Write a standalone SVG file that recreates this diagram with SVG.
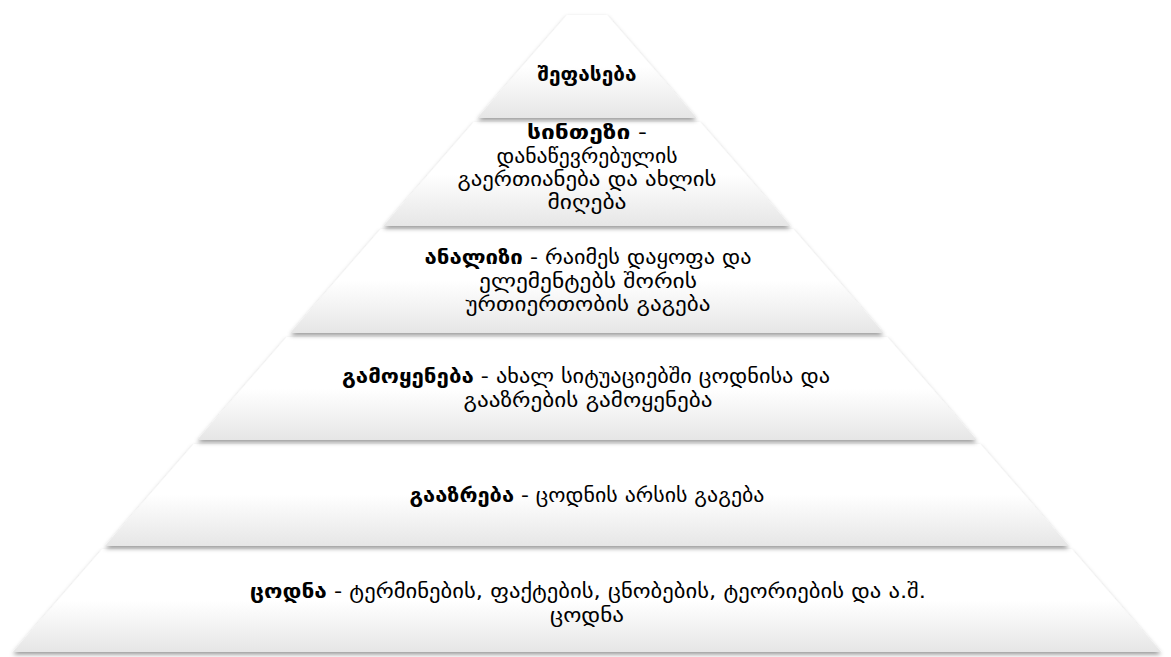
<svg xmlns="http://www.w3.org/2000/svg" width="1171" height="657" viewBox="0 0 1171 657">
<style>
.layer{fill:url(#g);filter:url(#sh);}
text{font-family:"DejaVu Sans","Noto Sans",sans-serif;font-size:19px;fill:#000;text-anchor:middle;}
.b{font-weight:bold;}
</style>
<defs>
<linearGradient id="g" x1="0" y1="0" x2="0" y2="1">
<stop offset="0" stop-color="#ffffff"/>
<stop offset="0.5" stop-color="#ffffff"/>
<stop offset="1" stop-color="#e6e6e6"/>
</linearGradient>
<filter id="sh" x="-5%" y="-10%" width="110%" height="130%">
<feDropShadow dx="0" dy="2.5" stdDeviation="2" flood-color="#000" flood-opacity="0.4"/>
</filter>
</defs>
<rect width="1171" height="657" fill="#fff"/>
<g id="knowledge">
<polygon class="layer" points="102.4,549 1071.6,549 1161.2,652 12.8,652"/>
<text x="588" y="598" textLength="676" lengthAdjust="spacingAndGlyphs"><tspan class="b">ცოდნა</tspan> - ტერმინების, ფაქტების, ცნობების, ტეორიების და ა.შ.</text>
<text x="587" y="622" textLength="74" lengthAdjust="spacingAndGlyphs">ცოდნა</text>
</g>
<g id="comprehension">
<polygon class="layer" points="193.8,444 980.2,444 1069,546 105,546"/>
<text x="587" y="502" textLength="355" lengthAdjust="spacingAndGlyphs"><tspan class="b">გააზრება</tspan> - ცოდნის არსის გაგება</text>
</g>
<g id="application">
<polygon class="layer" points="286.8,337 887.2,337 976.8,440 197.2,440"/>
<text x="586" y="383" textLength="488" lengthAdjust="spacingAndGlyphs"><tspan class="b">გამოყენება</tspan> - ახალ სიტუაციებში ცოდნისა და</text>
<text x="588" y="407" textLength="249" lengthAdjust="spacingAndGlyphs">გააზრების გამოყენება</text>
</g>
<g id="analysis">
<polygon class="layer" points="380.8,229 793.2,229 883.7,333 290.3,333"/>
<text x="588" y="264" textLength="327" lengthAdjust="spacingAndGlyphs"><tspan class="b">ანალიზი</tspan> - რაიმეს დაყოფა და</text>
<text x="588" y="288" textLength="218" lengthAdjust="spacingAndGlyphs">ელემენტებს შორის</text>
<text x="588" y="311" textLength="245" lengthAdjust="spacingAndGlyphs">ურთიერთობის გაგება</text>
</g>
<g id="synthesis">
<polygon class="layer" points="473.9,122 700.1,122 790.6,226 383.4,226"/>
<text x="587" y="139" textLength="120" lengthAdjust="spacingAndGlyphs"><tspan class="b">სინთეზი</tspan> -</text>
<text x="587" y="163" textLength="181" lengthAdjust="spacingAndGlyphs">დანაწევრებულის</text>
<text x="587" y="186" textLength="259" lengthAdjust="spacingAndGlyphs">გაერთიანება და ახლის</text>
<text x="587" y="209" textLength="79" lengthAdjust="spacingAndGlyphs">მიღება</text>
</g>
<g id="evaluation">
<polygon class="layer" points="567,15 607,15 696.6,118 477.4,118"/>
<text x="587" y="81" class="b" textLength="99" lengthAdjust="spacingAndGlyphs">შეფასება</text>
</g>
<g id="connectors"/>
</svg>
